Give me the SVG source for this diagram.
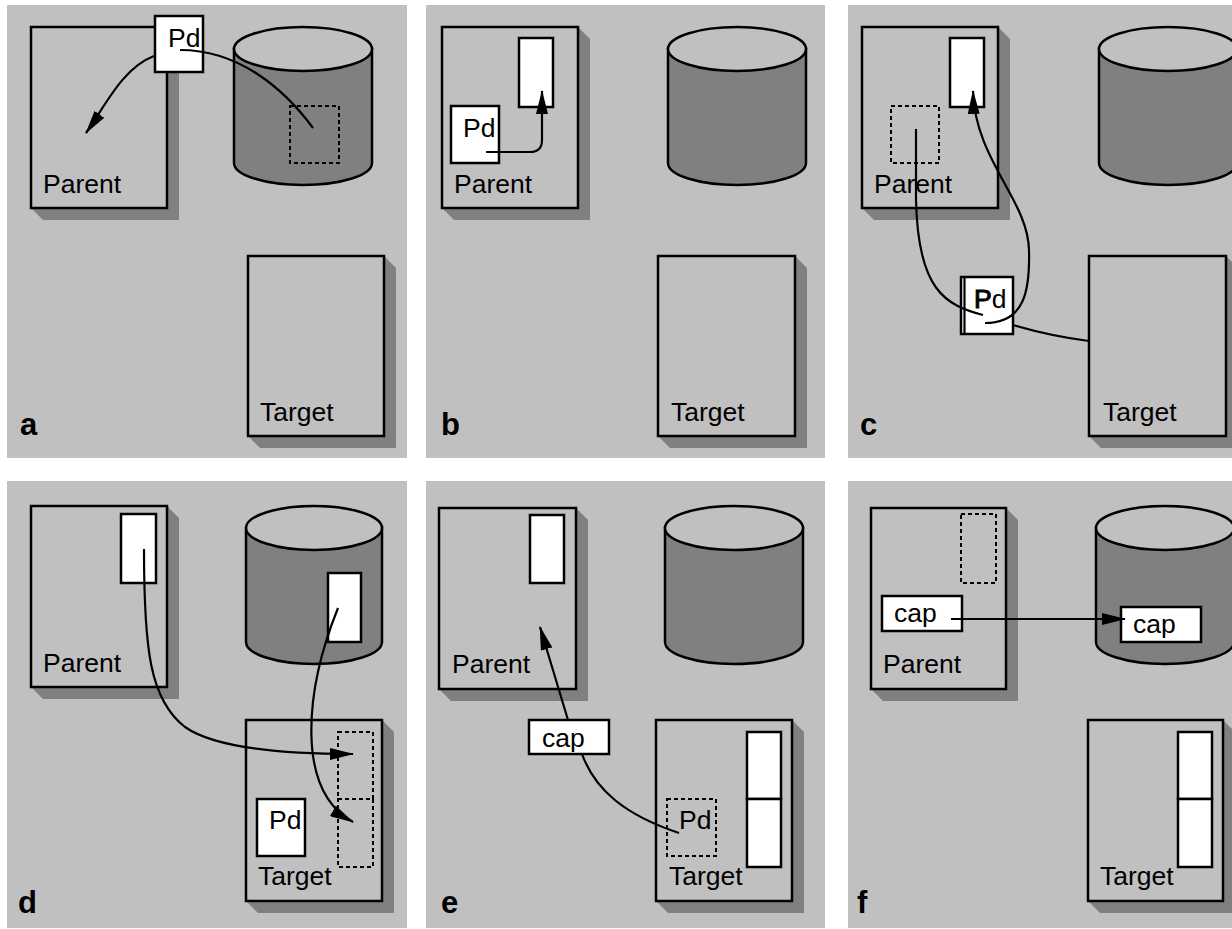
<svg xmlns="http://www.w3.org/2000/svg" width="1232" height="929" viewBox="0 0 1232 929">
<style>
.bg{fill:#c0c0c0}
.sh{fill:#808080}
.box{fill:#c0c0c0;stroke:#000;stroke-width:2.5}
.wb{fill:#fff;stroke:#000;stroke-width:2.5}
.dash{fill:none;stroke:#000;stroke-width:2;stroke-dasharray:4,3}
.body{fill:#808080;stroke:#000;stroke-width:2.5}
.top{fill:#c0c0c0;stroke:#000;stroke-width:2.5}
.ln{fill:none;stroke:#000;stroke-width:2.2}
.arr{fill:none;stroke:#000;stroke-width:2.2;marker-end:url(#ah)}
text{font-family:"Liberation Sans",Arial,sans-serif;font-size:26.5px;fill:#000}
.lbl{font-weight:bold;font-size:31px}
</style>
<defs>
<marker id="ah" markerWidth="24" markerHeight="12" refX="23" refY="6" orient="auto" markerUnits="userSpaceOnUse">
<path d="M0,0 L24,6 L0,12 Z" fill="#000"/>
</marker>
</defs>
<rect width="1232" height="929" fill="#fff"/>

<!-- Panel a -->
<g id="panel-a">
<rect class="bg" x="7" y="5" width="400" height="453"/>
<g id="a-parent"><polygon class="sh" points="167,27 179,39 179,220 43,220 31,208"/><rect class="box" x="31" y="27" width="136" height="181"/><text x="43" y="193">Parent</text></g>
<g id="a-store"><path class="body" d="M234,49 L234,163 A69,22 0 0 0 372,163 L372,49 Z"/><ellipse class="top" cx="303" cy="49" rx="69" ry="22"/><rect class="dash" x="290" y="106" width="49" height="57"/></g>
<g id="a-target"><polygon class="sh" points="384,256 396,268 396,448 260,448 248,436"/><rect class="box" x="248" y="256" width="136" height="180"/><text x="260" y="421">Target</text></g>
<g id="a-pd"><rect class="wb" x="155" y="16" width="48" height="56"/><text x="168" y="47">Pd</text></g>
<g id="a-connectors"><path class="ln" d="M180,50 C240,50 285,90 313,128"/><path class="arr" d="M154,56 C122,68 104,108 86,133"/></g>
<text class="lbl" x="20" y="435">a</text>
</g>

<!-- Panel b -->
<g id="panel-b">
<rect class="bg" x="426" y="5" width="399" height="453"/>
<g id="b-parent"><polygon class="sh" points="578,27 590,39 590,220 454,220 442,208"/><rect class="box" x="442" y="27" width="136" height="181"/><rect class="wb" x="519" y="38" width="34" height="69"/><text x="454" y="193">Parent</text></g>
<g id="b-store"><path class="body" d="M668,49 L668,163 A69,22 0 0 0 806,163 L806,49 Z"/><ellipse class="top" cx="737" cy="49" rx="69" ry="22"/></g>
<g id="b-target"><polygon class="sh" points="795,256 807,268 807,448 670,448 658,436"/><rect class="box" x="658" y="256" width="137" height="180"/><text x="671" y="421">Target</text></g>
<g id="b-pd"><rect class="wb" x="451" y="106" width="48" height="57"/><text x="463" y="137">Pd</text></g>
<g id="b-connectors"><path class="arr" d="M486,152 L530,152 Q542,152 542,140 L542,91"/></g>
<text class="lbl" x="441" y="435">b</text>
</g>

<!-- Panel c -->
<g id="panel-c">
<rect class="bg" x="848" y="5" width="384" height="453"/>
<g id="c-parent"><polygon class="sh" points="998,27 1010,39 1010,220 874,220 862,208"/><rect class="box" x="862" y="27" width="136" height="181"/><rect class="wb" x="950" y="38" width="34" height="69"/><rect class="dash" x="891" y="106" width="48" height="57"/><text x="874" y="193">Parent</text></g>
<g id="c-store"><path class="body" d="M1099,49 L1099,163 A69,22 0 0 0 1237,163 L1237,49 Z"/><ellipse class="top" cx="1168" cy="49" rx="69" ry="22"/></g>
<g id="c-target"><polygon class="sh" points="1226,256 1238,268 1238,448 1101,448 1089,436"/><rect class="box" x="1089" y="256" width="137" height="180"/><text x="1103" y="421">Target</text></g>
<g id="c-pd"><rect class="wb" x="961" y="277" width="52" height="57"/><line class="ln" x1="964.5" y1="277" x2="964.5" y2="334"/><text x="974" y="308"><tspan style="stroke:#000;stroke-width:1">P</tspan>d</text></g>
<g id="c-connectors">
<path class="ln" d="M916,129 L916,200 C918,290 945,305 983,315"/>
<path class="arr" d="M985,323 C1025,323 1030,290 1029,250 C1028,200 975,160 973,91"/>
<path class="ln" d="M1013,325 Q1050,336 1089,341"/>
</g>
<text class="lbl" x="860" y="435">c</text>
</g>

<!-- Panel d -->
<g id="panel-d">
<rect class="bg" x="7" y="481" width="400" height="447"/>
<g id="d-parent"><polygon class="sh" points="167,506 179,518 179,699 43,699 31,687"/><rect class="box" x="31" y="506" width="136" height="181"/><rect class="wb" x="121" y="514" width="35" height="69"/><text x="43" y="672">Parent</text></g>
<g id="d-store"><path class="body" d="M246,528 L246,642 A68,22 0 0 0 382,642 L382,528 Z"/><ellipse class="top" cx="314" cy="528" rx="68" ry="22"/><rect class="wb" x="328" y="573" width="33" height="69"/></g>
<g id="d-target"><polygon class="sh" points="382,720 394,732 394,913 258,913 246,901"/><rect class="box" x="246" y="720" width="136" height="181"/><rect class="dash" x="338" y="732" width="35" height="67"/><rect class="dash" x="338" y="799" width="35" height="68"/><text x="258" y="885">Target</text></g>
<g id="d-pd"><rect class="wb" x="257" y="799" width="48" height="57"/><text x="269" y="829">Pd</text></g>
<g id="d-connectors">
<path class="arr" d="M144,549 C144,650 150,700 185,727 C215,748 280,754 353,754"/>
<path class="arr" d="M338,608 C305,690 295,790 353,822"/>
</g>
<text class="lbl" x="18" y="913">d</text>
</g>

<!-- Panel e -->
<g id="panel-e">
<rect class="bg" x="426" y="481" width="399" height="447"/>
<g id="e-parent"><polygon class="sh" points="576,508 588,520 588,701 451,701 439,689"/><rect class="box" x="439" y="508" width="137" height="181"/><rect class="wb" x="530" y="515" width="34" height="68"/><text x="452" y="673">Parent</text></g>
<g id="e-store"><path class="body" d="M665,528 L665,642 A69,22 0 0 0 803,642 L803,528 Z"/><ellipse class="top" cx="734" cy="528" rx="69" ry="22"/></g>
<g id="e-target"><polygon class="sh" points="792,720 804,732 804,913 668,913 656,901"/><rect class="box" x="656" y="720" width="136" height="181"/><rect class="wb" x="747" y="732" width="34" height="67"/><rect class="wb" x="747" y="799" width="34" height="68"/><rect class="dash" x="667" y="799" width="49" height="57"/><text x="679" y="829">Pd</text><text x="669" y="885">Target</text></g>
<g id="e-cap"><rect class="wb" x="529" y="720" width="80" height="34"/><text x="542" y="747">cap</text></g>
<g id="e-connectors">
<path class="ln" d="M679,833 C625,815 595,790 582,754"/>
<path class="arr" d="M568,720 L540,627"/>
</g>
<text class="lbl" x="441" y="913">e</text>
</g>

<!-- Panel f -->
<g id="panel-f">
<rect class="bg" x="848" y="481" width="384" height="447"/>
<g id="f-parent"><polygon class="sh" points="1006,508 1018,520 1018,701 883,701 871,689"/><rect class="box" x="871" y="508" width="135" height="181"/><rect class="dash" x="961" y="514" width="35" height="69"/><text x="883" y="673">Parent</text></g>
<g id="f-cap1"><rect class="wb" x="882" y="596" width="80" height="35"/><text x="894" y="622">cap</text></g>
<g id="f-store"><path class="body" d="M1096,528 L1096,642 A69,22 0 0 0 1234,642 L1234,528 Z"/><ellipse class="top" cx="1165" cy="528" rx="69" ry="22"/></g>
<g id="f-cap2"><rect class="wb" x="1121" y="607" width="80" height="35"/><text x="1133" y="633">cap</text></g>
<g id="f-target"><polygon class="sh" points="1223,720 1235,732 1235,913 1100,913 1088,901"/><rect class="box" x="1088" y="720" width="135" height="181"/><rect class="wb" x="1178" y="732" width="34" height="67"/><rect class="wb" x="1178" y="799" width="34" height="68"/><text x="1100" y="885">Target</text></g>
<g id="f-connectors"><path class="arr" d="M951,619 L1125,619"/></g>
<text class="lbl" x="857" y="913">f</text>
</g>
</svg>
